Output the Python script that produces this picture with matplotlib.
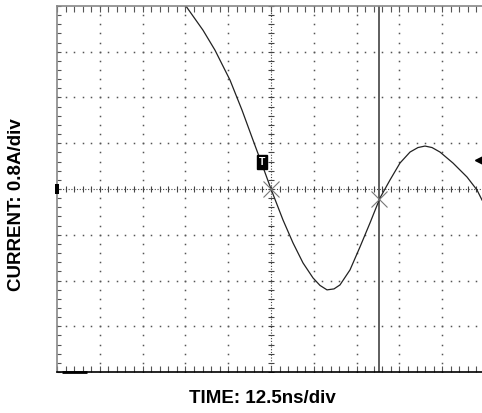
import numpy as np
import matplotlib.pyplot as plt
from matplotlib.patches import Rectangle

# scope settings
time_per_div = 12.5   # ns
amps_per_div = 0.8    # A
n_xdiv, n_ydiv = 10, 8

# waveform (ns, A)
time_ns = [-25.70, -24.82, -19.86, -16.36, -11.97, -8.47, -5.26, -2.34, 0.0,
           3.50, 6.43, 9.35, 12.27, 14.31, 16.36, 18.40, 20.15, 23.07, 25.99, 28.91, 31.83,
           34.75, 37.67, 40.60, 42.93, 44.98, 47.02, 49.36, 53.15, 57.24, 60.16, 61.62]
current_a = [3.301, 3.197, 2.777, 2.428, 1.904, 1.380, 0.856, 0.384, 0.0,
             -0.541, -0.943, -1.293, -1.555, -1.686, -1.764, -1.747, -1.677, -1.415, -1.013, -0.594, -0.157,
             0.157, 0.454, 0.646, 0.725, 0.751, 0.725, 0.646, 0.454, 0.210, -0.017, -0.192]

cursor_t = 31.54
cursor_i = -0.175
trig_t, trig_i = -2.63, 0.472
level_t, level_i = 60.75, 0.507

W, H = 482, 413
fig = plt.figure(figsize=(W / 100, H / 100), dpi=100)
ax = fig.add_axes([57 / W, 41 / H, 428 / W, 366 / H])

xh = n_xdiv / 2 * time_per_div
yh = n_ydiv / 2 * amps_per_div
ax.set_xlim(-xh, xh)
ax.set_ylim(-yh, yh)
ax.set_xticks([])
ax.set_yticks([])
ax.spines['right'].set_visible(False)
ax.spines['left'].set_color('#888888')
ax.spines['top'].set_color('#888888')
ax.spines['bottom'].set_color('black')
for s in ['left', 'top', 'bottom']:
    ax.spines[s].set_linewidth(1.2)

# dotted graticule
xmaj = np.arange(-n_xdiv / 2 + 1, n_xdiv / 2) * time_per_div
ymaj = np.arange(-n_ydiv / 2 + 1, n_ydiv / 2) * amps_per_div
xmin = np.arange(-n_xdiv / 2 * 5, n_xdiv / 2 * 5 + 1) * time_per_div / 5
ymin = np.arange(-n_ydiv / 2 * 5, n_ydiv / 2 * 5 + 1) * amps_per_div / 5
dot = dict(ls='none', marker='s', ms=1.1, mew=0, color='#555555')
for x in xmaj:
    if x == 0:
        continue
    ax.plot(np.full_like(ymin, x), ymin, **dot)
for y in ymaj:
    if y == 0:
        continue
    ax.plot(xmin, np.full_like(xmin, y), **dot)

# centre axes with ticks
ax.plot([-xh, xh], [0, 0], color='#444444', lw=0.8, ls=(0, (1, 1.5)))
ax.plot([0, 0], [-yh, yh], color='#444444', lw=0.8, ls=(0, (1, 1.5)))
ax.plot(xmin, np.zeros_like(xmin), ls='none', marker='|', ms=5, mew=0.8, color='#444444')
ax.plot(np.zeros_like(ymin), ymin, ls='none', marker='_', ms=5, mew=0.8, color='#444444')

# border ticks (pointing inward)
ax.plot(xmin, np.full_like(xmin, yh), ls='none', marker=3, ms=4, mew=0.8, color='#555555', clip_on=False)
ax.plot(xmin, np.full_like(xmin, -yh), ls='none', marker=2, ms=4, mew=0.8, color='#555555', clip_on=False)
ax.plot(np.full_like(ymin, -xh), ymin, ls='none', marker=1, ms=3, mew=0.8, color='#555555', clip_on=False)

# cursor
ax.axvline(cursor_t, color='#333333', lw=1.1)

# waveform
ax.plot(time_ns, current_a, color='#222222', lw=0.9)

# markers
ax.plot([0, cursor_t], [0, cursor_i], ls='none', marker='x', ms=11, mew=0.8, color='#777777')
ax.text(trig_t, trig_i, 'T', color='white', fontsize=7.5, fontweight='bold',
        family='Liberation Sans', ha='center', va='center',
        bbox=dict(facecolor='black', edgecolor='black', boxstyle='square,pad=0.2'))
ax.plot(level_t, level_i, marker='<', ms=6, color='black', clip_on=False)
# ground reference marker on the left edge
gw = 4 / 42.8 * time_per_div
gh = 10 / 45.8 * amps_per_div
ax.add_patch(Rectangle((-xh - gw * 0.6, -gh / 2), gw, gh, facecolor='black',
                       edgecolor='none', clip_on=False, zorder=5))
ax.plot([-61.0, -53.7], [-yh, -yh], color='black', lw=2, clip_on=False, solid_capstyle='butt')

fig.text(262 / W, 1 - 398.5 / H, 'TIME: 12.5ns/div', ha='center', va='center',
         fontsize=13.5, fontweight='bold', family='Liberation Sans')
fig.text(17 / W, 1 - 205 / H, 'CURRENT: 0.8A/div', ha='center', va='center',
         rotation=90, fontsize=13.5, fontweight='bold', family='Liberation Sans')

fig.savefig('out.png', dpi=100)
